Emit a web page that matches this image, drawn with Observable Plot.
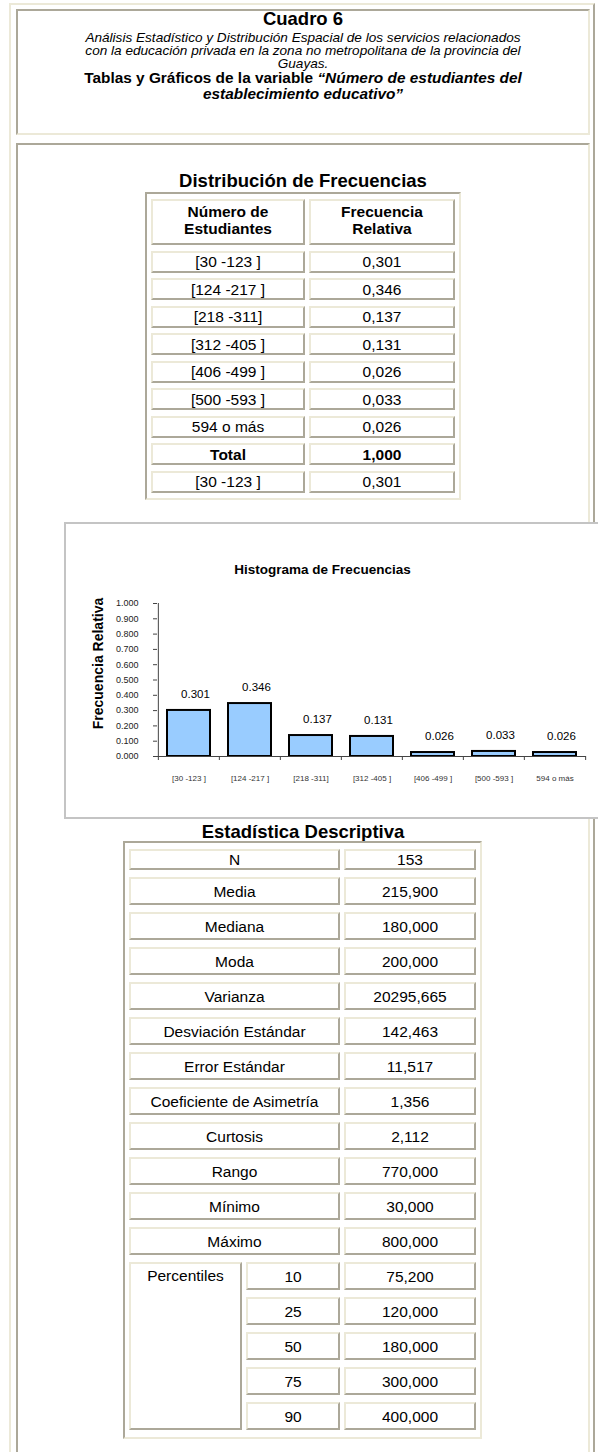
<!DOCTYPE html>
<html><head><meta charset="utf-8">
<script src="https://cdn.jsdelivr.net/npm/d3@7"></script>
<script src="https://cdn.jsdelivr.net/npm/@observablehq/plot@0.6"></script>
<style>
html,body{margin:0;padding:0;background:#fff;}
body{width:598px;height:1452px;overflow:hidden;position:relative;font-family:Arial,"Liberation Sans",sans-serif;color:#000;}
.abs{position:absolute;box-sizing:border-box;}
.outset{border:2px solid;border-color:#ECE9D8 #ACA899 #ACA899 #ECE9D8;}
.inset{border:2px solid;border-color:#ACA899 #ECE9D8 #ECE9D8 #ACA899;}
.grid{display:grid;background:#fff;}
.cell{box-sizing:border-box;border:2px solid;border-color:#ECE9D8 #ACA899 #ACA899 #ECE9D8;display:flex;align-items:center;justify-content:center;text-align:center;font-size:15.5px;line-height:17px;background:#fff;white-space:nowrap;}
.ctr{left:17px;width:572px;text-align:center;white-space:nowrap;}
</style></head><body>
<div class="abs outset" style="left:9px;top:3px;width:586px;height:1500px"></div>
<div class="abs inset" style="left:16px;top:9px;width:574px;height:126px"></div>
<div class="abs inset" style="left:16px;top:143px;width:574px;height:1400px"></div>
<div class="abs ctr" style="top:10px;font-weight:bold;font-size:18.5px;line-height:18px">Cuadro 6</div>
<div class="abs ctr" style="top:30.5px;font-style:italic;font-size:13.6px;line-height:13px">Análisis Estadístico y Distribución Espacial de los servicios relacionados<br>con la educación privada en la zona no metropolitana de la provincia del<br>Guayas.</div>
<div class="abs ctr" style="top:70px;font-weight:bold;font-size:15.4px;line-height:16px">Tablas y Gráficos de la variable <i>“Número de estudiantes del<br>establecimiento educativo”</i></div>
<div class="abs ctr" style="top:171px;font-weight:bold;font-size:18.5px;line-height:20px">Distribución de Frecuencias</div>
<div id="freq" class="abs inset grid" style="left:145px;top:192px;width:316px;grid-template-columns:154px 146px;grid-template-rows:46px repeat(9,22px);gap:5.5px 4px;padding:5px 4px 5.5px 4px;"></div>
<div class="abs" style="left:64px;top:522px;width:560px;height:297px;border:2px solid #C4C4C4;background:#fff;z-index:2"></div>
<div id="chart" class="abs" style="left:66px;top:524px;z-index:3"></div>
<div class="abs ctr" style="top:822px;font-weight:bold;font-size:18.5px;line-height:20px">Estadística Descriptiva</div>
<div id="stats" class="abs inset grid" style="left:123px;top:841px;width:359px;grid-template-columns:113px 94px 132px;grid-template-rows:21px repeat(16,28px);gap:7px 4px;padding:6px 4px 7px 4px;"></div>
<script>
// ---- data ----
const categories = ["[30 -123 ]","[124 -217 ]","[218 -311]","[312 -405 ]","[406 -499 ]","[500 -593 ]","594 o más"];
const freq = [0.301, 0.346, 0.137, 0.131, 0.026, 0.033, 0.026];
const freqHeader = ["Número de<br>Estudiantes", "Frecuencia<br>Relativa"];
const freqRowLabels = ["[30 -123 ]","[124 -217 ]","[218 -311]","[312 -405 ]","[406 -499 ]","[500 -593 ]","594 o más","Total","[30 -123 ]"];
const freqRowValues = ["0,301","0,346","0,137","0,131","0,026","0,033","0,026","1,000","0,301"];
const statLabels = ["N","Media","Mediana","Moda","Varianza","Desviación Estándar","Error Estándar","Coeficiente de Asimetría","Curtosis","Rango","Mínimo","Máximo"];
const statValues = ["153","215,900","180,000","200,000","20295,665","142,463","11,517","1,356","2,112","770,000","30,000","800,000"];
const percentileLabel = "Percentiles";
const percentiles = ["10","25","50","75","90"];
const percentileValues = ["75,200","120,000","180,000","300,000","400,000"];
const yTicks = [0, 0.1, 0.2, 0.3, 0.4, 0.5, 0.6, 0.7, 0.8, 0.9, 1.0];
const chartTitle = "Histograma de Frecuencias";
const yLabel = "Frecuencia Relativa";

// ---- tables ----
function cell(parent, html, style) {
  const d = document.createElement("div");
  d.className = "cell";
  d.innerHTML = html;
  if (style) d.setAttribute("style", style);
  parent.appendChild(d);
  return d;
}
const freqEl = document.getElementById("freq");
freqHeader.forEach(h => cell(freqEl, h, "font-weight:bold;padding-bottom:5px"));
freqRowLabels.forEach((l, i) => {
  const bold = l === "Total" ? "font-weight:bold" : "";
  cell(freqEl, l, bold);
  cell(freqEl, freqRowValues[i], bold);
});
const statsEl = document.getElementById("stats");
statLabels.forEach((l, i) => {
  cell(statsEl, l, `grid-column:1 / 3;grid-row:${i + 1}`);
  cell(statsEl, statValues[i], `grid-column:3;grid-row:${i + 1}`);
});
const p0 = statLabels.length + 1;
cell(statsEl, percentileLabel, `grid-column:1;grid-row:${p0} / ${p0 + percentiles.length};align-items:flex-start;padding-top:3px`);
percentiles.forEach((p, i) => {
  cell(statsEl, p, `grid-column:2;grid-row:${p0 + i}`);
  cell(statsEl, percentileValues[i], `grid-column:3;grid-row:${p0 + i}`);
});

// ---- chart ----
const data = categories.map((c, i) => ({cat: c, freq: freq[i]}));
const W = 532, H = 293, ML = 91, MR = 12, MT = 79, MB = 61;
const step = (W - ML - MR) / categories.length;
const fmt = d3.format(".3f");
const axisColor = "#444";
const chart = Plot.plot({
  width: W, height: H,
  marginLeft: ML, marginRight: MR, marginTop: MT, marginBottom: MB,
  x: {domain: categories, paddingInner: 0.3, paddingOuter: 0.15},
  y: {domain: [0, 1]},
  style: {fontFamily: "Arial, 'Liberation Sans', sans-serif", background: "transparent", overflow: "visible"},
  marks: [
    Plot.barY(data, {x: "cat", y: "freq", fill: "#99CCFF", stroke: "#000", strokeWidth: 2}),
    Plot.ruleY([0], {stroke: axisColor}),
    Plot.ruleX([categories[0]], {x: d => d, y1: 0, y2: 1, dx: -step / 2, stroke: axisColor}),
    Plot.ruleX(categories, {x: d => d, y1: 0, y2: 0, dx: -step / 2, insetBottom: -4, stroke: axisColor}),
    Plot.ruleX([categories[categories.length - 1]], {x: d => d, y1: 0, y2: 0, dx: step / 2, insetBottom: -4, stroke: axisColor}),
    Plot.text(data, {x: "cat", y: "freq", text: d => fmt(d.freq), dy: -16.5, dx: 6.5, fontSize: 11.5, fill: "#000"}),
    Plot.axisY({ticks: yTicks, tickFormat: fmt, tickSize: 4, tickPadding: 15, fontSize: 9, stroke: axisColor, fill: "#222", label: null}),
    Plot.axisX({tickSize: 0, tickPadding: 19, fontSize: 8, fill: "#333", label: null}),
    Plot.text([yLabel], {frameAnchor: "left", textAnchor: "middle", lineAnchor: "middle", rotate: -90, dx: -59, dy: -16.5, fontSize: 14, fontWeight: "bold", text: d => d, fill: "#000"}),
    Plot.text([chartTitle], {frameAnchor: "top", textAnchor: "middle", lineAnchor: "middle", dx: -49.5, dy: -34, fontSize: 13.5, fontWeight: "bold", text: d => d, fill: "#000"})
  ]
});
document.getElementById("chart").appendChild(chart);
</script>
</body></html>
